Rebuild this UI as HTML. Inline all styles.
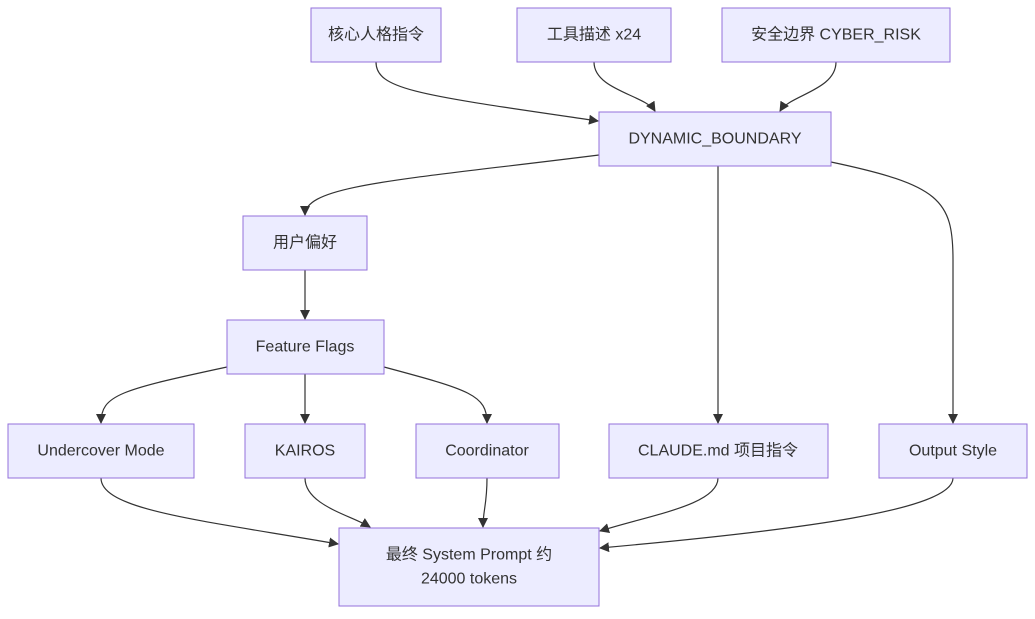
<!DOCTYPE html>
<html><head><meta charset="utf-8"><style>
body{margin:0;background:#fff;width:1035px;height:614px;overflow:hidden}
svg text{font-family:"Liberation Sans","Noto Sans CJK SC",sans-serif;font-size:16px;fill:#333;text-anchor:middle;dominant-baseline:central}
rect{fill:#ECECFF;stroke:#9370DB;stroke-width:1}
path{fill:none;stroke:#333;stroke-width:1.2}
</style></head><body>
<svg width="1035" height="614" viewBox="0 0 1035 614">
<defs><marker id="a" markerWidth="10" markerHeight="10" refX="9" refY="5" orient="auto" markerUnits="userSpaceOnUse"><path d="M0,0 L10,5 L0,10 z" style="fill:#333;stroke:none"/></marker></defs>
<g marker-end="url(#a)">
<path d="M376,62 C376,90 420,95 598,121"/>
<path d="M594,62 C594,90 645,95 655,111"/>
<path d="M836,62 C836,90 790,95 780,111"/>
<path d="M599,155 C400,180 305,185 305,215"/>
<path d="M718,166 L718,423"/>
<path d="M831,162 C940,185 953,200 953,260 L953,423"/>
<path d="M305,270 L305,319"/>
<path d="M227,367 C120,390 101,395 101,423"/>
<path d="M305,374 L305,423"/>
<path d="M384,367 C470,390 487,395 487,423"/>
<path d="M101,478 C101,510 200,520 338,544"/>
<path d="M305,478 C305,505 350,515 370,527"/>
<path d="M487,478 C487,505 483,510 483,527"/>
<path d="M718,478 C718,505 650,515 600,531"/>
<path d="M953,478 C953,510 800,530 600,548"/>
</g>
<rect x="311" y="8" width="130" height="54"/><text x="376" y="35">核心人格指令</text>
<rect x="517" y="8" width="154" height="54"/><text x="594" y="35">工具描述 x24</text>
<rect x="722" y="8" width="228" height="54"/><text x="836" y="35">安全边界 CYBER_RISK</text>
<rect x="599" y="112" width="232" height="54"/><text x="715" y="139">DYNAMIC_BOUNDARY</text>
<rect x="243" y="216" width="124" height="54"/><text x="305" y="243">用户偏好</text>
<rect x="227" y="320" width="157" height="54"/><text x="305" y="347">Feature Flags</text>
<rect x="8" y="424" width="186" height="54"/><text x="101" y="451">Undercover Mode</text>
<rect x="245" y="424" width="120" height="54"/><text x="305" y="451">KAIROS</text>
<rect x="416" y="424" width="143" height="54"/><text x="487" y="451">Coordinator</text>
<rect x="609" y="424" width="219" height="54"/><text x="718" y="451">CLAUDE.md 项目指令</text>
<rect x="879" y="424" width="148" height="54"/><text x="953" y="451">Output Style</text>
<rect x="339" y="528" width="260" height="78"/><text x="469" y="555">最终 System Prompt 约</text><text x="469" y="579">24000 tokens</text>
</svg>
</body></html>
